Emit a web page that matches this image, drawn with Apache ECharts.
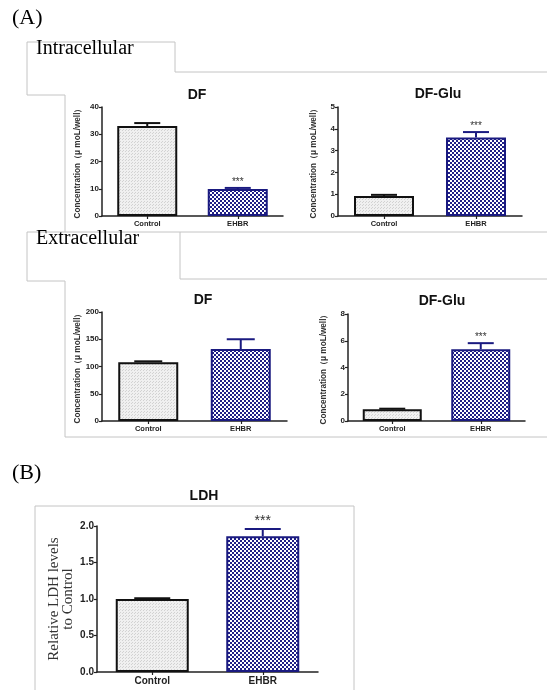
<!DOCTYPE html>
<html>
<head>
<meta charset="utf-8">
<script src="https://cdn.jsdelivr.net/npm/echarts@6/dist/echarts.min.js"></script>
<style>html,body{margin:0;padding:0;background:#fff}#c{width:547px;height:690px}</style>
</head>
<body>
<div id="c"></div>
<script>
// ---- data ----
const categories = ['Control', 'EHBR'];
const intraDF = [33.0, 9.9];
const intraDFErr = [1.1, 0.4];
const intraGlu = [0.92, 3.6];
const intraGluErr = [0.05, 0.25];
const extraDF = [108, 132];
const extraDFErr = [1.5, 18];
const extraGlu = [0.88, 5.36];
const extraGluErr = [0.04, 0.46];
const ldh = [1.0, 1.86];
const ldhErr = [0.01, 0.10];
const intraDFSig = ['', '***'];
const intraGluSig = ['', '***'];
const extraDFSig = ['', ''];
const extraGluSig = ['', '***'];
const ldhSig = ['', '***'];
const intraDFTicks = [0, 10, 20, 30, 40];
const intraGluTicks = [0, 1, 2, 3, 4, 5];
const extraDFTicks = [0, 50, 100, 150, 200];
const extraGluTicks = [0, 2, 4, 6, 8];
const ldhTicks = [0.0, 0.5, 1.0, 1.5, 2.0];
const panelTitles = ['DF', 'DF-Glu', 'DF', 'DF-Glu', 'LDH'];
const concName = 'Concentration（μ moL/well）';
const ldhName = 'Relative LDH levels\nto Control';

// ---- patterns ----
function checker() {
  const c = document.createElement('canvas'); c.width = 4; c.height = 4;
  const g = c.getContext('2d');
  g.fillStyle = '#ffffff'; g.fillRect(0, 0, 4, 4);
  g.fillStyle = '#1f1f86'; g.fillRect(0, 0, 2, 2); g.fillRect(2, 2, 2, 2);
  return c;
}
function dots() {
  const c = document.createElement('canvas'); c.width = 3; c.height = 3;
  const g = c.getContext('2d');
  g.fillStyle = '#f0f0f0'; g.fillRect(0, 0, 3, 3);
  g.fillStyle = '#d2d2d2'; g.fillRect(0, 0, 1, 1); g.fillRect(2, 1, 1, 1);
  return c;
}
const ctrlFill = { image: dots(), repeat: 'repeat' };
const ehbrFill = { image: checker(), repeat: 'repeat' };
const NAVY = '#1a1a80';

const panels = [
  { vals: intraDF, err: intraDFErr, sig: intraDFSig, ticks: intraDFTicks, name: concName,
    grid: { left: 102, top: 107, width: 181, height: 109 }, bw: 60, cap: 26, fs: 8, xfs: 7.5, nfs: 8.2, sfs: 10, title: [192, 83] },
  { vals: intraGlu, err: intraGluErr, sig: intraGluSig, ticks: intraGluTicks, name: concName,
    grid: { left: 338, top: 107, width: 184, height: 109 }, bw: 60, cap: 26, fs: 8, xfs: 7.5, nfs: 8.2, sfs: 10, title: [433, 82] },
  { vals: extraDF, err: extraDFErr, sig: extraDFSig, ticks: extraDFTicks, name: concName,
    grid: { left: 102, top: 312, width: 185, height: 109 }, bw: 60, cap: 28, fs: 8, xfs: 7.5, nfs: 8.2, sfs: 10, title: [198, 288] },
  { vals: extraGlu, err: extraGluErr, sig: extraGluSig, ticks: extraGluTicks, name: concName,
    grid: { left: 348, top: 314, width: 177, height: 107 }, bw: 59, cap: 26, fs: 8, xfs: 7.5, nfs: 8.2, sfs: 10, title: [437, 289] },
  { vals: ldh, err: ldhErr, sig: ldhSig, ticks: ldhTicks, name: ldhName,
    grid: { left: 97, top: 526, width: 221, height: 146 }, bw: 73, cap: 36, fs: 10, xfs: 10, nfs: 15, sfs: 14, title: [199, 484], serifName: true }
];

const grids = [], xAxes = [], yAxes = [], series = [], titles = [];
panels.forEach((p, i) => {
  grids.push(Object.assign({ containLabel: false }, p.grid));
  const t = p.ticks;
  xAxes.push({
    type: 'category', gridIndex: i, data: categories,
    axisLine: { lineStyle: { color: '#222', width: 1.5 } },
    axisTick: { show: true, alignWithLabel: true, length: 3, lineStyle: { color: '#222', width: 1.2 } },
    axisLabel: { color: '#222', fontWeight: 'bold', fontSize: p.xfs, fontFamily: 'Liberation Sans', margin: 4 }
  });
  yAxes.push({
    type: 'value', gridIndex: i, min: t[0], max: t[t.length - 1], interval: t[1] - t[0],
    name: p.name, nameLocation: 'middle', nameGap: p.serifName ? 22 : 20,
    nameTextStyle: p.serifName
      ? { fontFamily: 'Liberation Serif', fontSize: p.nfs, color: '#333', lineHeight: 14 }
      : { fontFamily: 'Liberation Sans', fontWeight: 'bold', fontSize: p.nfs, color: '#333' },
    axisLine: { show: true, lineStyle: { color: '#222', width: 1.5 } },
    axisTick: { show: true, length: 3, lineStyle: { color: '#222', width: 1.2 } },
    splitLine: { show: false },
    axisLabel: {
      color: '#222', fontWeight: 'bold', fontSize: p.fs, fontFamily: 'Liberation Sans', margin: 3,
      formatter: v => (p.serifName ? v.toFixed(1) : String(v))
    }
  });
  titles.push({
    text: panelTitles[i], left: p.title[0], top: p.title[1], textAlign: 'center',
    textStyle: { fontFamily: 'Liberation Sans', fontWeight: 'bold', fontSize: 14, color: '#111' }
  });
  series.push({
    type: 'bar', xAxisIndex: i, yAxisIndex: i, barWidth: p.bw, silent: true,
    data: p.vals.map((v, k) => ({
      value: v,
      itemStyle: k === 0
        ? { color: ctrlFill, borderColor: '#111', borderWidth: 2 }
        : { color: ehbrFill, borderColor: NAVY, borderWidth: 2 }
    }))
  });
  series.push({
    type: 'custom', xAxisIndex: i, yAxisIndex: i, silent: true, z: 5,
    data: p.vals.map((v, k) => [k, v, v + p.err[k], k]),
    renderItem: (params, api) => {
      const k = api.value(0);
      const base = api.coord([k, api.value(1)]);
      const top = api.coord([k, api.value(2)]);
      const col = api.value(3) === 0 ? '#111' : NAVY;
      const children = [
        { type: 'line', shape: { x1: base[0], y1: base[1], x2: top[0], y2: top[1] }, style: { stroke: col, lineWidth: 2 } },
        { type: 'line', shape: { x1: top[0] - p.cap / 2, y1: top[1], x2: top[0] + p.cap / 2, y2: top[1] }, style: { stroke: col, lineWidth: 2 } }
      ];
      const s = p.sig[k];
      if (s) {
        children.push({ type: 'text', style: { text: s, x: top[0], y: top[1] - 1, textAlign: 'center', textVerticalAlign: 'bottom',
          font: p.sfs + 'px "Liberation Sans"', fill: '#333' } });
      }
      return { type: 'group', children };
    }
  });
});

const GR = '#c4c4c4';
function pl(points) {
  return { type: 'polyline', silent: true, shape: { points }, style: { stroke: GR, lineWidth: 1, fill: null } };
}
const graphic = [
  pl([[65, 232], [65, 95], [27, 95], [27, 42], [175, 42], [175, 72], [547, 72]]),
  pl([[65, 437], [65, 281], [27, 281], [27, 232], [547, 232]]),
  pl([[180, 232], [180, 279], [547, 279]]),
  pl([[65, 437], [547, 437]]),
  pl([[35, 690], [35, 506], [354, 506], [354, 690]]),
  { type: 'text', silent: true, style: { text: '(A)', x: 12, y: 7, font: '22px "Liberation Serif"', fill: '#000' } },
  { type: 'text', silent: true, style: { text: '(B)', x: 12, y: 462, font: '22px "Liberation Serif"', fill: '#000' } },
  { type: 'text', silent: true, style: { text: 'Intracellular', x: 36, y: 39, font: '20px "Liberation Serif"', fill: '#000' } },
  { type: 'text', silent: true, style: { text: 'Extracellular', x: 36, y: 229, font: '20px "Liberation Serif"', fill: '#000' } }
];

const chart = echarts.init(document.getElementById('c'), null, { renderer: 'canvas' });
chart.setOption({
  backgroundColor: '#ffffff',
  animation: false,
  title: titles,
  grid: grids,
  xAxis: xAxes,
  yAxis: yAxes,
  series,
  graphic
});
</script>
</body>
</html>
